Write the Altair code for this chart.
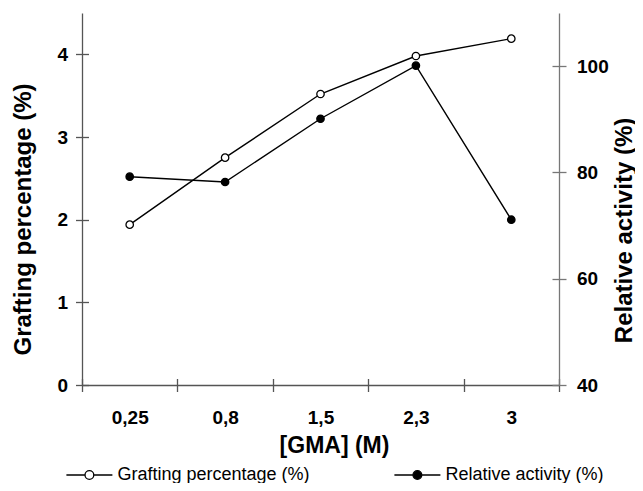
import altair as alt
import pandas as pd

# ---- data ----
concentrations = ["0,25", "0,8", "1,5", "2,3", "3"]
grafting = [1.94, 2.75, 3.52, 3.98, 4.19]          # left axis, %
activity = [79.2, 78.2, 90.1, 100.1, 71.1]         # right axis, %
left_ticks = [0, 1, 2, 3, 4]
right_ticks = [40, 60, 80, 100]
series = ["Grafting percentage (%)", "Relative activity (%)"]

df_g = pd.DataFrame({"conc": concentrations, "value": grafting, "series": series[0]})
df_a = pd.DataFrame({"conc": concentrations, "value": activity, "series": series[1]})

FONT = "Liberation Sans"
W, H = 477, 372
AX = "#555555"
AXR = "#777777"

xscale = alt.Scale(type="band", domain=concentrations, paddingInner=0, paddingOuter=0)
yl_scale = alt.Scale(domain=[0, 4.5], nice=False, zero=False)
yr_scale = alt.Scale(domain=[40, 110], nice=False, zero=False)
fill_scale = alt.Scale(domain=series, range=["white", "black"])

x_main_axis = alt.Axis(
    orient="bottom", tickBand="extent", labelAngle=0, labelFont=FONT, labelFontSize=19,
    labelFontWeight="bold", labelColor="black", labelPadding=17, tickSize=6.5,
    tickColor=AX, tickWidth=1.3, domainColor=AX, domainWidth=1.3, grid=False,
    title="[GMA] (M)", titleFont=FONT, titleFontSize=23, titleFontWeight="bold",
    titleColor="black", titleX=252, titleY=67, titleBaseline="alphabetic", titleAlign="center",
)
# extra tick-only axes so that the ticks cross the axis lines, as in the reference
x_tick_axis = alt.Axis(
    orient="top", offset=-H, tickBand="extent", labels=True, labelOpacity=0, domain=False,
    tickSize=6.5, tickColor=AX, tickWidth=1.3, grid=False, title=None,
)
yl_axis = alt.Axis(
    orient="left", values=left_ticks, labelFont=FONT, labelFontSize=19, labelFontWeight="bold",
    labelColor="black", labelPadding=8, tickSize=6.5, tickColor=AX, tickWidth=1.3,
    domainColor=AX, domainWidth=1.3, grid=False,
    title="Grafting percentage (%)", titleFont=FONT, titleFontSize=24, titleFontWeight="bold",
    titleColor="black", titleAngle=270, titleX=-52, titleY=206,
    titleBaseline="alphabetic", titleAlign="center",
)
yl_dummy = alt.Axis(
    orient="right", offset=-W, values=left_ticks, labels=True, labelOpacity=0, domain=False,
    tickSize=6.5, tickColor=AX, tickWidth=1.3, grid=False, title=None,
)
yr_axis = alt.Axis(
    orient="right", values=right_ticks, labelFont=FONT, labelFontSize=19, labelFontWeight="bold",
    labelColor="black", labelPadding=10.5, tickSize=7, tickColor=AXR, tickWidth=1.3,
    domainColor=AXR, domainWidth=1.3, grid=False,
    title="Relative activity (%)", titleFont=FONT, titleFontSize=24, titleFontWeight="bold",
    titleColor="black", titleAngle=270, titleX=72, titleY=217,
    titleBaseline="alphabetic", titleAlign="center",
)
yr_dummy = alt.Axis(
    orient="left", offset=-W, values=right_ticks, labels=True, labelOpacity=0, domain=False,
    tickSize=7, tickColor=AXR, tickWidth=1.3, grid=False, title=None,
)

SYMBOL = ("M-1,0H-0.19M0.19,0H1"
          "M-0.19,0A0.19,0.19 0 1,0 0.19,0A0.19,0.19 0 1,0 -0.19,0Z")
legend = alt.Legend(
    title=None, orient="none", legendX=-16.6, legendY=438, direction="horizontal",
    symbolType=SYMBOL, symbolSize=2116, symbolStrokeColor="black", symbolStrokeWidth=1.3,
    symbolOpacity=1, labelFont=FONT, labelFontSize=18, labelColor="black",
    labelLimit=400, labelOffset=4, columnPadding=81, padding=0,
)

def xenc(axis):
    return alt.X("conc:N", scale=xscale, axis=axis)

def yenc(scale, axis):
    return alt.Y("value:Q", scale=scale, axis=axis)

graft_line = alt.Chart(df_g).mark_line(color="black", strokeWidth=1.4).encode(
    x=xenc(x_main_axis), y=yenc(yl_scale, yl_axis))
graft_pts = alt.Chart(df_g).mark_point(filled=True, size=55, stroke="black",
                                       strokeWidth=1.3, opacity=1).encode(
    x=xenc(None), y=yenc(yl_scale, None),
    fill=alt.Fill("series:N", scale=fill_scale, legend=legend))
graft_ticks = alt.Chart(df_g).mark_point(opacity=0).encode(
    x=xenc(x_tick_axis), y=yenc(yl_scale, yl_dummy))

act_line = alt.Chart(df_a).mark_line(color="black", strokeWidth=1.4).encode(
    x=xenc(None), y=yenc(yr_scale, yr_axis))
act_pts = alt.Chart(df_a).mark_point(filled=True, size=55, stroke="black",
                                     strokeWidth=1.3, opacity=1).encode(
    x=xenc(None), y=yenc(yr_scale, None),
    fill=alt.Fill("series:N", scale=fill_scale, legend=legend))
act_ticks = alt.Chart(df_a).mark_point(opacity=0).encode(
    x=xenc(None), y=yenc(yr_scale, yr_dummy))

chart = (
    alt.layer(graft_line, graft_pts, graft_ticks, act_line, act_pts, act_ticks)
    .resolve_scale(y="independent")
    .resolve_axis(x="independent")
    .properties(
        width=W, height=H,
        padding={"left": 74, "top": 5, "right": 76, "bottom": 98},
        autosize=alt.AutoSizeParams(type="none"),
        background="white",
    )
    .configure_view(stroke=None)
)

chart.save("out.html", embed_options={"renderer": "svg", "actions": False})
